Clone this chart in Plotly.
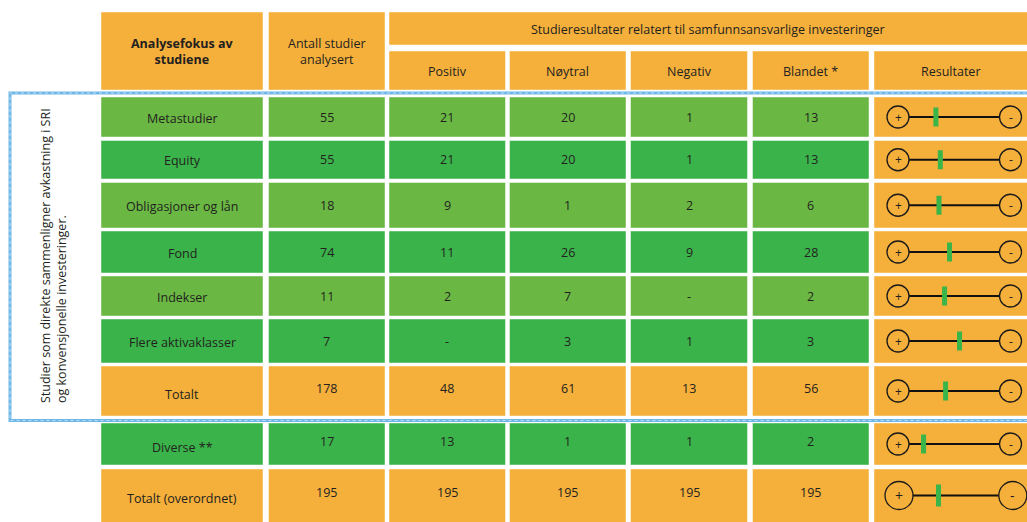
import plotly.graph_objects as go

# ---------------- data ----------------
categories = ["Metastudier", "Equity", "Obligasjoner og lån", "Fond", "Indekser",
              "Flere aktivaklasser", "Totalt", "Diverse **", "Totalt (overordnet)"]
antall = [55, 55, 18, 74, 11, 7, 178, 17, 195]
positiv = [21, 21, 9, 11, 2, None, 48, 13, 195]
noytral = [20, 20, 1, 26, 7, 3, 61, 1, 195]
negativ = [1, 1, 2, 9, None, 1, 13, 1, 195]
blandet = [13, 13, 6, 28, 2, 3, 56, 2, 195]
# position of the green marker on the "+ ... -" scale (0 = positive, 1 = negative)
resultat = [0.337, 0.376, 0.364, 0.458, 0.414, 0.547, 0.423, 0.227, 0.347]
row_kind = ["light", "dark", "light", "dark", "light", "dark", "total", "dark", "total"]

col_headers = ["Positiv", "Nøytral", "Negativ", "Blandet *", "Resultater"]
header_main = "Analysefokus av<br>studiene"
header_count = "Antall studier<br>analysert"
header_group = "Studieresultater relatert til samfunnsansvarlige investeringer"
side_label = "Studier som direkte sammenligner avkastning i SRI<br>og konvensjonelle investeringer."

# ---------------- styling / geometry ----------------
W, H = 1027, 522
ORANGE = "#F5AF3B"
LIGHT = "#6AB843"
DARK = "#3AB34A"
MARK = "#3AB54A"
TXT = "#231F20"
BLUE = "#6FB7E7"
FONT = "Open Sans"
fill_of = {"light": LIGHT, "dark": DARK, "total": ORANGE}

col_x = [(101, 263), (268.5, 385), (389, 505.5), (509.5, 626),
         (630.5, 747.5), (752.5, 869), (874, 1030)]
row_y = [(97, 137), (140.5, 179), (182.5, 228), (231, 273), (276, 316),
         (319, 363), (366, 416), (423, 465), (469, 525)]

shapes, ann = [], []


def rect(x0, x1, y0, y1, color):
    shapes.append(dict(type="rect", xref="x", yref="y", x0=x0, x1=x1, y0=y0, y1=y1,
                       fillcolor=color, line=dict(color="rgba(255,255,255,0.45)", width=1),
                       layer="below"))


def text(x, y, s, size=12.5, bold=False, **kw):
    ann.append(dict(x=x, y=y, xref="x", yref="y", text=(f"<b>{s}</b>" if bold else s),
                    showarrow=False, font=dict(family=FONT, size=size, color=TXT), **kw))


# header
rect(*col_x[0], 12, 90, ORANGE)
text(sum(col_x[0]) / 2, 51, header_main, size=12.5, bold=True)
rect(*col_x[1], 12, 90, ORANGE)
text(sum(col_x[1]) / 2, 51, header_count, size=12.5)
rect(col_x[2][0], col_x[6][1], 12, 45, ORANGE)
text((col_x[2][0] + W) / 2, 29, header_group, size=12.5)
for i, h in enumerate(col_headers):
    cx = col_x[2 + i]
    rect(cx[0], cx[1], 51, 90, ORANGE)
    text((cx[0] + min(cx[1], W)) / 2, 71, h, size=12.5)

# body
vals = [antall, positiv, noytral, negativ, blandet]
for r, cat in enumerate(categories):
    y0, y1 = row_y[r]
    yc = (y0 + min(y1, H)) / 2
    big = r == len(categories) - 1
    col = fill_of[row_kind[r]]
    rect(*col_x[0], y0, y1, col)
    text(sum(col_x[0]) / 2, yc + (3 if row_kind[r] != "light" and r >= 6 else 1), cat)
    for c, arr in enumerate(vals):
        v = arr[r]
        rect(*col_x[1 + c], y0, y1, col)
        text(sum(col_x[1 + c]) / 2, yc - (3 if r >= 6 else 0), "-" if v is None else str(v))
    # results column
    rect(*col_x[6], y0, y1, ORANGE)
    rad = 14 if big else 11
    cp = 899 if big else 898
    cm = 1012.8 if big else 1010.5
    shapes.append(dict(type="line", xref="x", yref="y", x0=cp + rad, x1=cm - rad, y0=yc, y1=yc,
                       line=dict(color="#111111", width=2)))
    for cx in (cp, cm):
        shapes.append(dict(type="circle", xref="x", yref="y", x0=cx - rad, x1=cx + rad,
                           y0=yc - rad, y1=yc + rad, line=dict(color="#1a1a1a", width=1.3)))
    text(cp, yc, "+", size=14 if big else 12)
    text(cm, yc, "-", size=14 if big else 12)
    mx = cp + resultat[r] * (cm - cp)
    mh = 11 if big else 9.5
    shapes.append(dict(type="rect", xref="x", yref="y", x0=mx - 2.5, x1=mx + 2.5,
                       y0=yc - mh, y1=yc + mh, fillcolor=MARK, line=dict(width=0)))

# blue dotted frame
shapes.append(dict(type="path", xref="x", yref="y",
                   path=f"M {W + 5},93 L 10,93 L 10,420.5 L {W + 5},420.5",
                   line=dict(color=BLUE, width=3)))
shapes.append(dict(type="path", xref="x", yref="y",
                   path=f"M {W + 5},93 L 10,93 L 10,420.5 L {W + 5},420.5",
                   line=dict(color="#B9DDF4", width=1, dash="dot")))

# side label
ann.append(dict(x=53, y=256, xref="x", yref="y", text=side_label, textangle=-90, align="left",
                showarrow=False, font=dict(family=FONT, size=12.5, color=TXT)))

fig = go.Figure()
fig.add_trace(go.Scatter(x=[0, W], y=[0, H], mode="markers", marker=dict(opacity=0),
                         hoverinfo="skip", showlegend=False))
fig.update_layout(
    width=W, height=H, margin=dict(l=0, r=0, t=0, b=0),
    paper_bgcolor="white", plot_bgcolor="white",
    xaxis=dict(range=[0, W], visible=False, fixedrange=True),
    yaxis=dict(range=[H, 0], visible=False, fixedrange=True),
    shapes=shapes, annotations=ann, showlegend=False,
)
fig.write_html("out.html")
